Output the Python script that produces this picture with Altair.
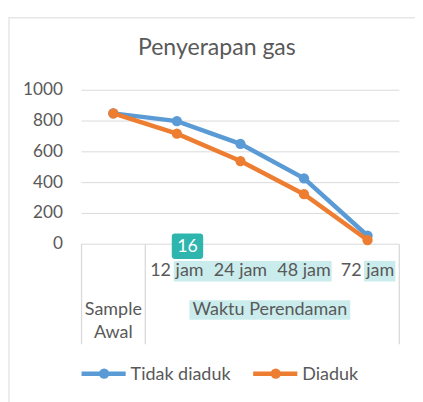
import altair as alt
import pandas as pd

categories = ["Sample Awal", "12 jam", "24 jam", "48 jam", "72 jam"]
series_names = ["Tidak diaduk", "Diaduk"]
tidak_diaduk = [850, 800, 652, 428, 55]
diaduk = [850, 718, 540, 325, 27]
y_ticks = [0, 200, 400, 600, 800, 1000]
title_text = "Penyerapan gas"
group_label = "Waktu Perendaman"
badge_text = "16"

BLUE = "#5b9bd5"
ORANGE = "#ed7d31"
GREY = "#595959"
GRID = "#d9d9d9"
FONT = "Lato"
FS = 18.3

xs = alt.Scale(type="point", domain=categories, range=[107.4, 366.6], padding=0)
ys = alt.Scale(domain=[0, 1000], range=[237, 80], zero=False, nice=False)

df_blue = pd.DataFrame({"cat": categories, "v": tidak_diaduk})
df_orange = pd.DataFrame({"cat": categories, "v": diaduk})
df_ticks = pd.DataFrame({"v": y_ticks})
df_time = pd.DataFrame({"cat": categories[1:]})
df_first = pd.DataFrame({"cat": categories[:1]})

base = alt.Chart(pd.DataFrame({"a": [0]}))

border = base.mark_rect(fill=None, stroke="#e6e6e6", strokeWidth=1.5).encode(
    x=alt.value(1), x2=alt.value(440), y=alt.value(6), y2=alt.value(440))

title = base.mark_text(fontSize=23.5, font=FONT, color=GREY).encode(
    x=alt.value(213), y=alt.value(37), text=alt.value(title_text))

grid = alt.Chart(df_ticks).mark_rule(color=GRID, strokeWidth=1).encode(
    y=alt.Y("v:Q", scale=ys, axis=None), x=alt.value(75), x2=alt.value(399))

ylabels = alt.Chart(df_ticks).mark_text(align="right", baseline="middle", fontSize=17.5,
                                         font=FONT, color=GREY).encode(
    y=alt.Y("v:Q", scale=ys, axis=None), x=alt.value(56), text=alt.Text("v:Q"))

vlines = alt.Chart(pd.DataFrame({"px": [75, 140, 399]})).mark_rule(color=GRID, strokeWidth=1.3).encode(
    x=alt.X("px:Q", scale=alt.Scale(domain=[0, 415], range=[0, 415]), axis=None),
    y=alt.value(237), y2=alt.value(339))

hl1 = base.mark_rect(color="#cbecec").encode(
    x=alt.value(169), x2=alt.value(330), y=alt.value(254), y2=alt.value(275))
hl2 = base.mark_rect(color="#cbecec").encode(
    x=alt.value(363), x2=alt.value(395), y=alt.value(254), y2=alt.value(275))
hl3 = base.mark_rect(color="#cbecec").encode(
    x=alt.value(185), x2=alt.value(349), y=alt.value(294), y2=alt.value(314))

time_labels = alt.Chart(df_time).mark_text(baseline="middle", fontSize=FS, font=FONT, color=GREY).encode(
    x=alt.X("cat:N", scale=xs, axis=None, sort=categories), y=alt.value(264), text="cat:N")

first_label = alt.Chart(df_first).mark_text(baseline="middle", fontSize=FS, font=FONT, color=GREY,
                                            lineBreak=" ", lineHeight=24).encode(
    x=alt.X("cat:N", scale=xs, axis=None, sort=categories), y=alt.value(304), text="cat:N")

group_text = base.mark_text(baseline="middle", fontSize=FS, font=FONT, color=GREY).encode(
    x=alt.value(267), y=alt.value(304), text=alt.value(group_label))

badge = base.mark_rect(color="#2db5ae", cornerRadius=3).encode(
    x=alt.value(167), x2=alt.value(199), y=alt.value(226), y2=alt.value(252))
badge_t = base.mark_text(fontSize=18, font=FONT, color="white", baseline="middle").encode(
    x=alt.value(183), y=alt.value(240), text=alt.value(badge_text))


def series_layer(df, color):
    enc = dict(x=alt.X("cat:N", scale=xs, axis=None, sort=categories),
               y=alt.Y("v:Q", scale=ys, axis=None))
    line = alt.Chart(df).mark_line(color=color, strokeWidth=4.5).encode(**enc)
    pts = alt.Chart(df).mark_point(color=color, filled=True, opacity=1, size=110).encode(**enc)
    return line + pts


def legend_item(x0, name, color):
    ln = base.mark_rule(color=color, strokeWidth=4.5).encode(
        x=alt.value(x0), x2=alt.value(x0 + 45), y=alt.value(369))
    pt = base.mark_point(color=color, filled=True, opacity=1, size=110).encode(
        x=alt.value(x0 + 23), y=alt.value(369))
    tx = base.mark_text(align="left", baseline="middle", fontSize=FS, font=FONT, color=GREY).encode(
        x=alt.value(x0 + 50), y=alt.value(370), text=alt.value(name))
    return ln + pt + tx


chart = alt.layer(
    border, title, grid, ylabels, vlines, hl1, hl2, hl3,
    time_labels, first_label, group_text,
    series_layer(df_blue, BLUE), series_layer(df_orange, ORANGE),
    badge, badge_t,
    legend_item(75, series_names[0], BLUE), legend_item(250, series_names[1], ORANGE),
).properties(
    width=415, height=394, autosize=alt.AutoSizeParams(type="none"), padding=0
).configure_view(stroke=None)

chart.save("out.html", embed_options={"renderer": "svg", "actions": False})
